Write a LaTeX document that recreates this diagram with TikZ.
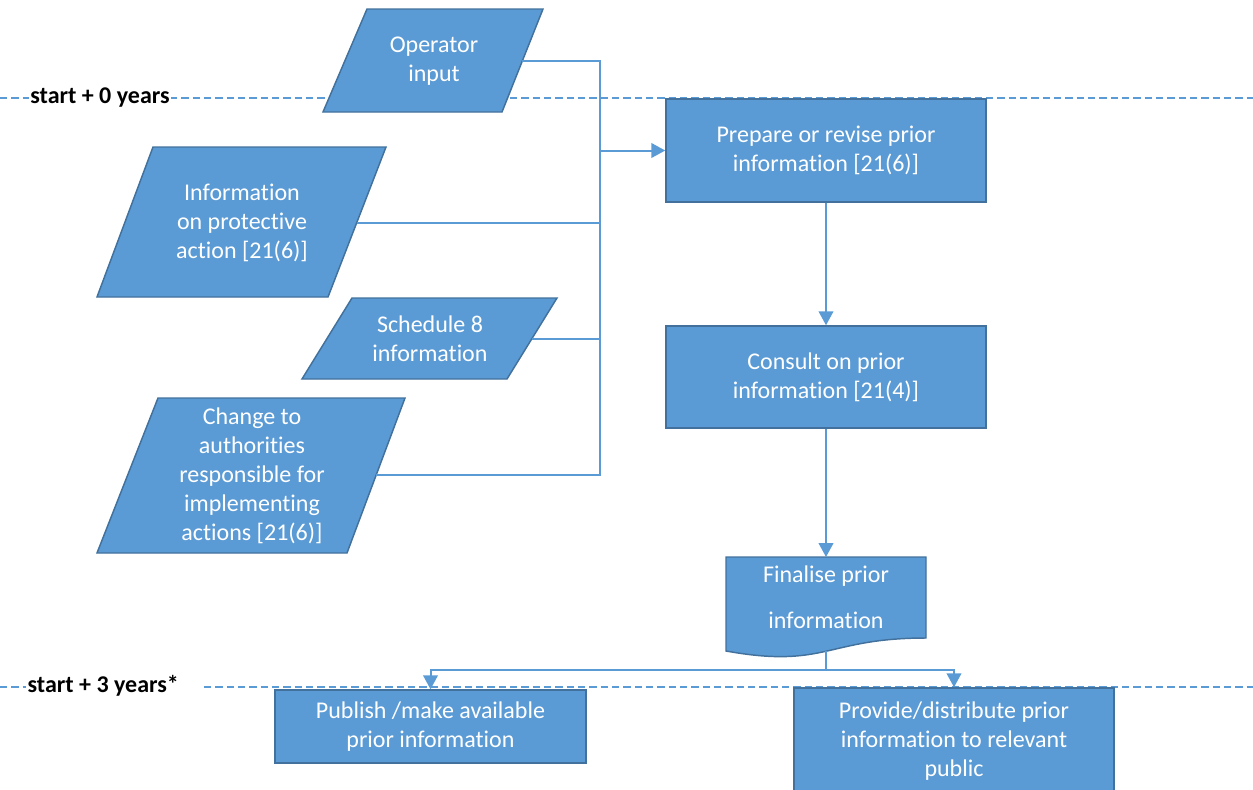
\documentclass[tikz,border=0pt]{standalone}
\usepackage{fontspec}
\setmainfont[Ligatures=NoCommon]{Carlito}
\usetikzlibrary{arrows.meta}
\definecolor{boxblue}{RGB}{91,155,213}
\definecolor{edgeblue}{RGB}{65,113,156}
\begin{document}
\begin{tikzpicture}[x=0.75pt,y=-0.75pt,
	blk/.style={fill=boxblue,draw=edgeblue,line width=1.1pt},
	txt/.style={text=white,align=center,font=\fontsize{18}{21.75}\selectfont},
	process/.style={blk,txt,rectangle,minimum width=240pt,inner sep=0pt},
	conn/.style={draw=boxblue,line width=1.5pt},
	arr/.style={conn,-{Triangle[length=10.5pt,width=11pt]}},
	timeline/.style={draw=boxblue,line width=1.2pt,dash pattern=on 5.5pt off 3pt},
	years/.style={fill=white,inner sep=1pt,font=\fontsize{18}{21.75}\selectfont\bfseries}]
\useasboundingbox (0,0) rectangle (1253,789);

\draw[timeline] (0,98) -- (1253,98);
\draw[timeline] (0,687) -- (1253,687);
\node[years] (t0) at (100,97.5) {start + 0 years};
\node[years,anchor=west] (t3) at (26,685.5) {start + 3 years*\hspace*{17pt}};

% inputs
\filldraw[blk] (323,112) -- (367,9) -- (543,9) -- (502,112) -- cycle;
\node[txt] (op) at (434,61) {Operator\\input};
\filldraw[blk] (97,297) -- (153,147) -- (386,147) -- (328,297) -- cycle;
\node[txt] (info) at (242,223) {Information\\on protective\\action [21(6)]};
\filldraw[blk] (302,379) -- (352,298) -- (557,298) -- (507,379) -- cycle;
\node[txt] (sched) at (430,339) {Schedule 8\\information};
\filldraw[blk] (97,553) -- (158,398) -- (405,398) -- (347,553) -- cycle;
\node[txt] (change) at (252,476) {Change to\\authorities\\responsible for\\implementing\\actions [21(6)]};
\coordinate (op-out) at (522,61);
\coordinate (info-out) at (357,223);
\coordinate (sched-out) at (532,339);
\coordinate (change-out) at (376,475);
\coordinate (bus) at (600,0);

\node[process,minimum height=77.25pt] (prep) at (826,150.5) {Prepare or revise prior\\information [21(6)]};
\node[process,minimum height=76.5pt] (consult) at (826,377) {Consult on prior\\information [21(4)]};
\filldraw[blk] (726,557) -- (926,557) -- (926,638) .. controls (826,638) and (826,669) .. (726,651) -- cycle;
\node[txt] (final) at (826,597) {Finalise prior\\[12.75pt]information};
\coordinate (final-top) at (826,557);
\coordinate (final-bot) at (826,651);
\coordinate (split) at (826,670);
\node[process,minimum width=233.25pt,minimum height=54.75pt] (publish) at (430.5,726.5) {Publish /make available\\prior information};
\node[process,minimum height=80.25pt] (provide) at (954,741.5) {Provide/distribute prior\\information to relevant\\public};

\draw[conn] (op-out) -| (bus |- change-out) -- (change-out);
\draw[conn] (info-out) -- (bus |- info-out);
\draw[conn] (sched-out) -- (bus |- sched-out);
\draw[arr] (bus |- prep.west) -- (prep.west);
\draw[arr] (prep) -- (consult);
\draw[arr] (consult) -- (final-top);
\draw[conn] (final-bot) -- (split);
\draw[arr] (split) -| (publish);
\draw[arr] (split) -| (provide);
\end{tikzpicture}
\end{document}
